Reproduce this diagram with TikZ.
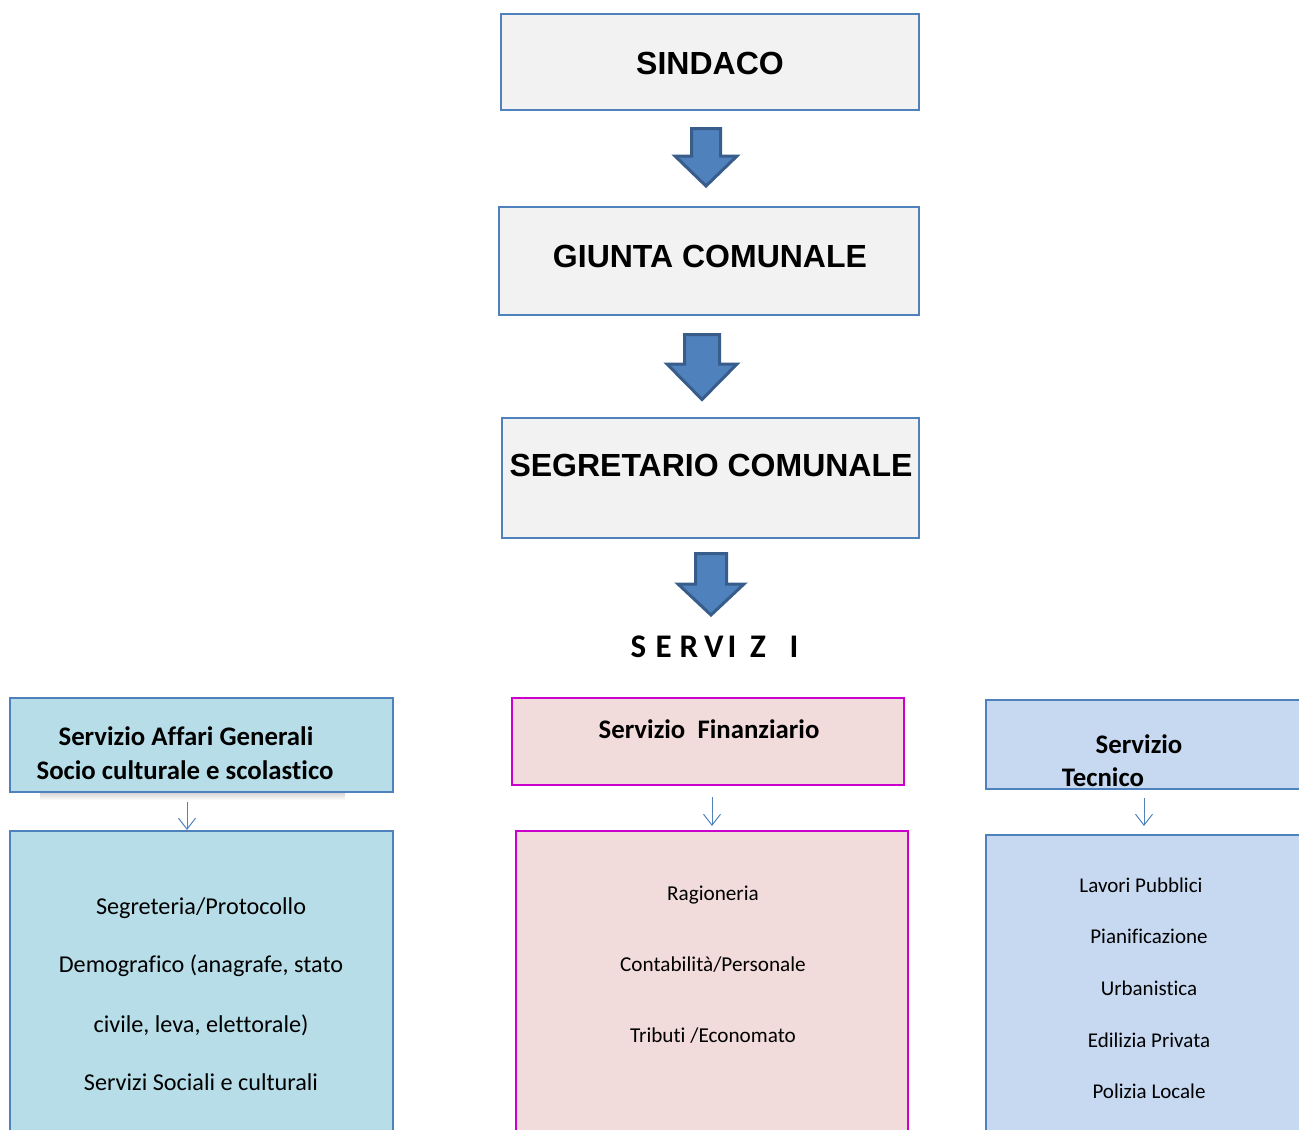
\documentclass[tikz,border=0pt]{standalone}
\usepackage{fontspec}
\setmainfont[Ligatures={NoCommon}]{Carlito}
\newfontfamily\arialb{Liberation Sans}
\usetikzlibrary{arrows.meta}
\definecolor{topfill}{HTML}{F2F2F2}
\definecolor{bline}{HTML}{4F81BD}
\definecolor{afill}{HTML}{4F81BD}
\definecolor{aline}{HTML}{385D8A}
\definecolor{lfill}{HTML}{B7DEE8}
\definecolor{ffill}{HTML}{F2DCDB}
\definecolor{fline}{HTML}{CC00CC}
\definecolor{rfill}{HTML}{C6D9F1}
\tikzset{
  topbox/.style={draw=bline, fill=topfill, line width=2.5pt},
  lbox/.style={draw=bline, fill=lfill, line width=2pt},
  fbox/.style={draw=fline, fill=ffill, line width=2pt},
  rbox/.style={draw=bline, fill=rfill, line width=2.5pt},
  bigarr/.style={draw=aline, fill=afill, line width=3pt, line join=miter},
  smallarr/.style={draw=bline, line width=1pt, -{Straight Barb[length=11pt,width=17pt,line width=1pt]}},
  toptext/.style={font=\arialb\bfseries\fontsize{32}{36}\selectfont, anchor=base, inner sep=0pt},
  headtext/.style={font=\bfseries\fontsize{26.8}{30}\selectfont, anchor=base, inner sep=0pt},
  ltext/.style={font=\fontsize{24.2}{28}\selectfont, anchor=base, inner sep=0pt},
  ftext/.style={font=\fontsize{21.2}{24}\selectfont, anchor=base, inner sep=0pt},
  rtext/.style={font=\fontsize{21}{25}\selectfont, anchor=base, inner sep=0pt},
}
\newcommand{\blockarrow}[6]{% cx, top, bodyhalf, shoulder, headhalf, tip
  \draw[bigarr] (#1-#3,#2) -- (#1+#3,#2) -- (#1+#3,#4) -- (#1+#5,#4) -- (#1,#6)
     -- (#1-#5,#4) -- (#1-#3,#4) -- cycle;}
\begin{document}
\begin{tikzpicture}[x=1pt,y=-1pt]
\useasboundingbox (0,0) rectangle (1299,1130);
\clip (0,0) rectangle (1299,1130);
% top chain
\draw[topbox] (501,14) rectangle (919,110);
\node[toptext] (sindaco) at (710,74) {SINDACO};
\blockarrow{706}{128.5}{14.5}{156}{31}{186}
\draw[topbox] (499,207) rectangle (919,315);
\node[toptext] (giunta) at (710,267) {GIUNTA COMUNALE};
\blockarrow{702}{334.5}{17.5}{364}{35}{399.5}
\draw[topbox] (502,418) rectangle (919,538);
\node[toptext] (segr) at (711,476) {SEGRETARIO COMUNALE};
\blockarrow{711}{553.5}{15.5}{584}{33}{615}
\node[font=\bfseries\fontsize{33}{36}\selectfont, anchor=base west, inner sep=0pt] (servizi) at (630.5,657)
  {\rlap{S}\hspace{25pt}\rlap{E}\hspace{24pt}\rlap{R}\hspace{24.5pt}\rlap{V}\hspace{23.5pt}\rlap{I}\hspace{22.5pt}\rlap{Z}\hspace{39.5pt}I};
% left column
\shade[top color=black!30, bottom color=white, opacity=0.6] (40,792) rectangle (345,800);
\draw[lbox] (10,698) rectangle (393,792);
\node[headtext] (lh1) at (186,745) {Servizio Affari Generali};
\node[headtext] (lh2) at (185,779) {Socio culturale e scolastico};
\coordinate (la1) at (187,802);
\coordinate (la2) at (187,830);
\draw[smallarr] (la1) -- (la2);
\draw[lbox] (10,831) rectangle (393,1145);
\node[ltext] (l1) at (201,914) {Segreteria/Protocollo};
\node[ltext] (l2) at (201,972) {Demografico (anagrafe, stato};
\node[ltext] (l3) at (201,1032) {civile, leva, elettorale)};
\node[ltext] (l4) at (201,1090) {Servizi Sociali e culturali};
% middle column
\draw[fbox] (512,698) rectangle (904,785);
\node[headtext] (fh) at (709,738) {Servizio\ \ Finanziario};
\coordinate (fa1) at (712,797);
\coordinate (fa2) at (712,826);
\draw[smallarr] (fa1) -- (fa2);
\draw[fbox] (516,831) rectangle (908,1145);
\node[ftext] (f1) at (713,900) {Ragioneria};
\node[ftext] (f2) at (713,971) {Contabilità/Personale};
\node[ftext] (f3) at (713,1042) {Tributi /Economato};
% right column
\draw[rbox] (986,700) rectangle (1310,789);
\node[headtext] (rh1) at (1139,753) {Servizio};
\node[headtext] (rh2) at (1103,786) {Tecnico};
\coordinate (ra1) at (1144,798);
\coordinate (ra2) at (1144,826);
\draw[smallarr] (ra1) -- (ra2);
\draw[rbox] (986,835) rectangle (1310,1145);
\node[rtext] (r1) at (1141,892) {Lavori Pubblici};
\node[rtext] (r2) at (1149,943) {Pianificazione};
\node[rtext] (r3) at (1149,995) {Urbanistica};
\node[rtext] (r4) at (1149,1047) {Edilizia Privata};
\node[rtext] (r5) at (1149,1098) {Polizia Locale};
\end{tikzpicture}
\end{document}
